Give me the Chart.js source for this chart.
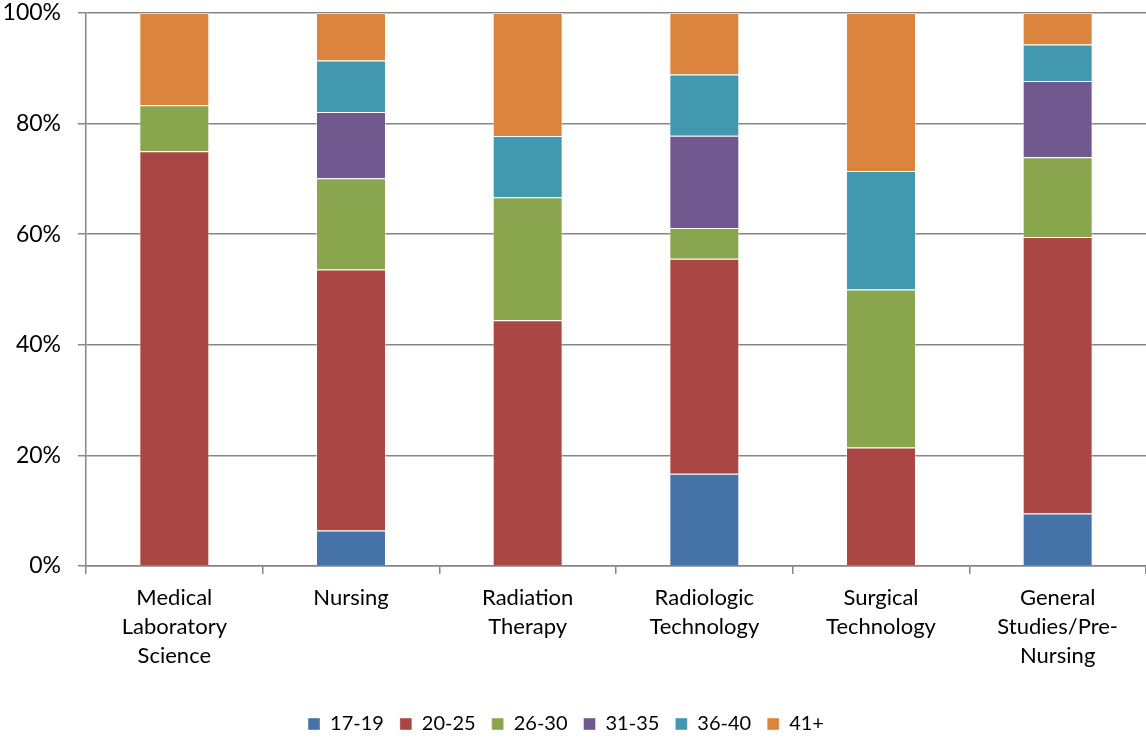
<!DOCTYPE html>
<html>
<head>
<meta charset="utf-8">
<script src="https://cdn.jsdelivr.net/npm/chart.js@4"></script>
<style>
  html, body { margin: 0; padding: 0; background: #fff; }
  #wrap { width: 1146px; height: 738px; position: relative; }
</style>
</head>
<body>
<div id="wrap"><canvas id="c"></canvas></div>
<script>
const categories = [
  ['Medical', 'Laboratory', 'Science'],
  ['Nursing'],
  ['Radiation', 'Therapy'],
  ['Radiologic', 'Technology'],
  ['Surgical', 'Technology'],
  ['General', 'Studies/Pre-', 'Nursing']
];
const seriesNames = ['17-19', '20-25', '26-30', '31-35', '36-40', '41+'];
const age17_19 = [0, 6.4, 0, 16.67, 0, 9.5];
const age20_25 = [75.0, 47.2, 44.44, 38.89, 21.43, 50.0];
const age26_30 = [8.33, 16.5, 22.22, 5.56, 28.57, 14.4];
const age31_35 = [0, 12.0, 0, 16.67, 0, 13.8];
const age36_40 = [0, 9.3, 11.11, 11.11, 21.43, 6.6];
const age41plus = [16.67, 8.6, 22.22, 11.11, 28.57, 5.7];
const yTicks = [0, 20, 40, 60, 80, 100];

const colors = ['#4572A7', '#AA4643', '#89A54E', '#71588F', '#4198AF', '#DB843D'];
const seriesValues = [age17_19, age20_25, age26_30, age31_35, age36_40, age41plus];

const FONT = 'Lato, "Open Sans", sans-serif';

const legendShift = {
  id: 'legendShift',
  afterLayout(chart) {
    const lg = chart.legend;
    if (lg) { lg.top += 6; lg.bottom += 6; lg.left -= 7; lg.right -= 7; }
  }
};

new Chart(document.getElementById('c'), {
  type: 'bar',
  data: {
    labels: categories,
    datasets: seriesNames.map((name, i) => ({
      label: name,
      data: seriesValues[i],
      backgroundColor: colors[i],
      borderColor: 'rgba(255,255,255,0.4)',
      borderWidth: 1,
      borderSkipped: 'start',
      barPercentage: 0.396,
      categoryPercentage: 1.0
    }))
  },
  plugins: [legendShift],
  options: {
    responsive: true,
    maintainAspectRatio: false,
    animation: false,
    layout: { padding: 0 },
    plugins: {
      legend: {
        position: 'bottom',
        labels: {
          boxWidth: 12,
          boxHeight: 12,
          padding: 16,
          color: '#000',
          font: { family: FONT, size: 20 }
        }
      },
      tooltip: { enabled: false }
    },
    scales: {
      x: {
        stacked: true,
        grid: {
          offset: true,
          drawOnChartArea: false,
          drawTicks: true,
          tickLength: 8,
          color: '#868686',
          lineWidth: 1.5
        },
        border: { display: true, color: '#868686', width: 1.5 },
        ticks: {
          color: '#000',
          font: { family: FONT, size: 22, lineHeight: 1.3 },
          padding: 10,
          maxRotation: 0,
          autoSkip: false
        },
        afterFit: (s) => { s.height = 126; }
      },
      y: {
        stacked: true,
        min: 0,
        max: 100,
        afterBuildTicks: (s) => { s.ticks = yTicks.map(v => ({ value: v })); },
        grid: {
          color: '#868686',
          lineWidth: 1.5,
          drawTicks: true,
          tickLength: 8
        },
        border: { display: true, color: '#868686', width: 1.5 },
        ticks: {
          color: '#000',
          font: { family: FONT, size: 23 },
          padding: 17,
          callback: (v) => v + '%'
        },
        afterFit: (s) => { s.width = 86; s.paddingTop = 13; s.paddingBottom = 13; }
      }
    }
  }
});
</script>
</body>
</html>
